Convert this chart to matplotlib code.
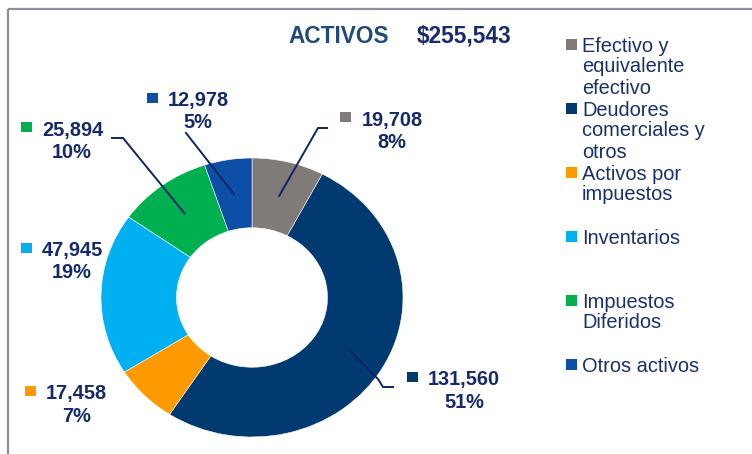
import numpy as np
import matplotlib
matplotlib.use("Agg")
import matplotlib.pyplot as plt
from matplotlib.patches import Rectangle

plt.rcParams['font.family'] = ['Liberation Sans', 'DejaVu Sans']

# ---- data ----
categories = ["Efectivo y\nequivalente\nefectivo",
              "Deudores\ncomerciales y\notros",
              "Activos por\nimpuestos",
              "Inventarios",
              "Impuestos\nDiferidos",
              "Otros activos"]
values = [19708, 131560, 17458, 47945, 25894, 12978]
percent_labels = ["8%", "51%", "7%", "19%", "10%", "5%"]
title_text = "ACTIVOS"
total_text = "$255,543"
colors = ["#807b78", "#003a70", "#ff9900", "#00b0f0", "#00b050", "#0d4ea6"]

# ---- layout (pixels, from top-left) ----
W, H = 752, 454
CX, CY, RX, RY = 252, 297.5, 151, 139.5
TXT = "#15296b"
LINE = "#0e2466"
FS = 14.4

fig = plt.figure(figsize=(W / 100, H / 100), dpi=100)

pie_ax = fig.add_axes([(CX - RX) / W, (H - CY - RY) / H, 2 * RX / W, 2 * RY / H])
wedges, _ = pie_ax.pie(values, colors=colors, startangle=90, counterclock=False,
                       radius=1, wedgeprops=dict(width=0.5, edgecolor="white", linewidth=0.4))
pie_ax.set_aspect("auto")
pie_ax.set_xlim(-1, 1)
pie_ax.set_ylim(-1, 1)
pie_ax.axis("off")

ov = fig.add_axes([0, 0, 1, 1], zorder=5)
ov.set_xlim(0, W)
ov.set_ylim(H, 0)
ov.axis("off")

# frame
ov.plot([7.5, W], [9, 9], color="#8b8da0", lw=1.6, solid_capstyle="butt")
ov.plot([7.5, 7.5], [9, H], color="#8b8da0", lw=1.6, solid_capstyle="butt")

# title
ov.text(288, 43, title_text, fontsize=16.3, fontweight="bold", color="#1f4b7c", va="baseline", ha="left")
ov.text(417, 43, total_text, fontsize=16.3, fontweight="bold", color="#1a2a6e", va="baseline", ha="left")

# data labels: (square left x, square center y, number left x, number baseline, pct center x)
label_pos = [
    (340, 117, 362, 126, 392),
    (407, 377, 428, 385, 464),
    (25, 391, 46, 399, 77),
    (21, 248, 42, 256, 72),
    (21, 127, 42, 136, 72),
    (147, 98, 168, 106, 198),
]
SQ = 10.5
for i, v in enumerate(values):
    sx, sy, nx, nb, pcx = label_pos[i]
    ov.add_patch(Rectangle((sx, sy - SQ / 2), SQ, SQ, color=colors[i], lw=0))
    ov.text(nx, nb, f"{v:,}", fontsize=FS, fontweight="bold", color=TXT, ha="left", va="baseline")
    ov.text(pcx, nb + 22.5, percent_labels[i], fontsize=FS, fontweight="bold", color=TXT,
            ha="center", va="baseline")

# leader lines: start at wedge midpoint in the middle of the ring
tot = sum(values)
cum = np.cumsum([0] + values)
elbows = {
    0: [(318, 128), (327, 128)],
    1: [(378, 379), (383, 387), (393, 387)],
    4: [(123, 138), (112, 138)],
    5: [(186, 133)],
}
for i, pts in elbows.items():
    mid = (cum[i] + cum[i + 1]) / 2 / tot * 2 * np.pi
    x0 = CX + RX * 0.75 * np.sin(mid)
    y0 = CY - RY * 0.75 * np.cos(mid)
    xs = [x0] + [p[0] for p in pts]
    ys = [y0] + [p[1] for p in pts]
    ov.plot(xs, ys, color=LINE, lw=1.4, solid_joinstyle="miter")

# legend
LEG_TXT = "#1b2f6e"
for i, name in enumerate(categories):
    yc = 44.5 + i * 64
    ov.add_patch(Rectangle((566, yc - 5.5), 11, 11, color=colors[i], lw=0))
    for j, line in enumerate(name.split("\n")):
        ov.text(582, yc + 7 + j * 21, line, fontsize=FS, color=LEG_TXT, ha="left", va="baseline")

fig.savefig("out.png", dpi=100)
